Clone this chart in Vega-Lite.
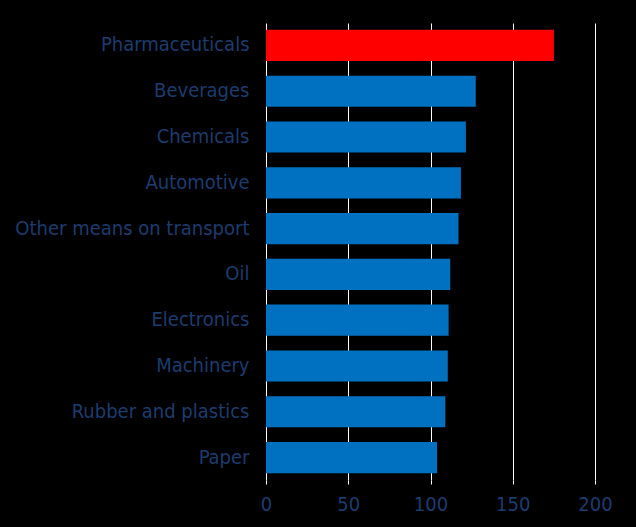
{
  "$schema": "https://vega.github.io/schema/vega-lite/v6.json",
  "autosize": "none",
  "width": 329,
  "height": 457,
  "padding": {"left": 266, "top": 23, "right": 41, "bottom": 47},
  "background": "#000000",
  "config": {
    "view": {"stroke": null},
    "font": "DejaVu Sans Condensed"
  },
  "data": {
    "values": [
      {"industry": "Pharmaceuticals", "value": 175},
      {"industry": "Beverages", "value": 127.5},
      {"industry": "Chemicals", "value": 121.5},
      {"industry": "Automotive", "value": 118.5},
      {"industry": "Other means on transport", "value": 117},
      {"industry": "Oil", "value": 112},
      {"industry": "Electronics", "value": 111},
      {"industry": "Machinery\u00a0", "value": 110.5},
      {"industry": "Rubber and plastics", "value": 109},
      {"industry": "Paper", "value": 104}
    ]
  },
  "mark": {"type": "bar"},
  "encoding": {
    "y": {
      "field": "industry",
      "type": "nominal",
      "sort": null,
      "scale": {"paddingInner": 0.32, "paddingOuter": 0.15},
      "axis": {
        "title": null,
        "ticks": false,
        "domain": false,
        "grid": false,
        "labelPadding": 17,
        "labelColor": "#1c3c6e",
        "labelFontSize": 20,
        "labelFont": "DejaVu Sans Condensed",
        "labelLimit": 400
      }
    },
    "x": {
      "field": "value",
      "type": "quantitative",
      "scale": {"domain": [0, 200], "nice": false},
      "axis": {
        "title": null,
        "values": [0, 50, 100, 150, 200],
        "domain": false,
        "grid": true,
        "gridColor": "#ffffff",
        "gridOpacity": 1,
        "gridWidth": 1,
        "ticks": true,
        "tickColor": "#ffffff",
        "tickSize": 4,
        "labelFlush": false,
        "labelPadding": 10,
        "labelColor": "#1c3c6e",
        "labelFontSize": 20,
        "labelFont": "DejaVu Sans Condensed"
      }
    },
    "color": {
      "condition": {"test": "datum.industry === 'Pharmaceuticals'", "value": "#FF0000"},
      "value": "#0070C0"
    }
  }
}
